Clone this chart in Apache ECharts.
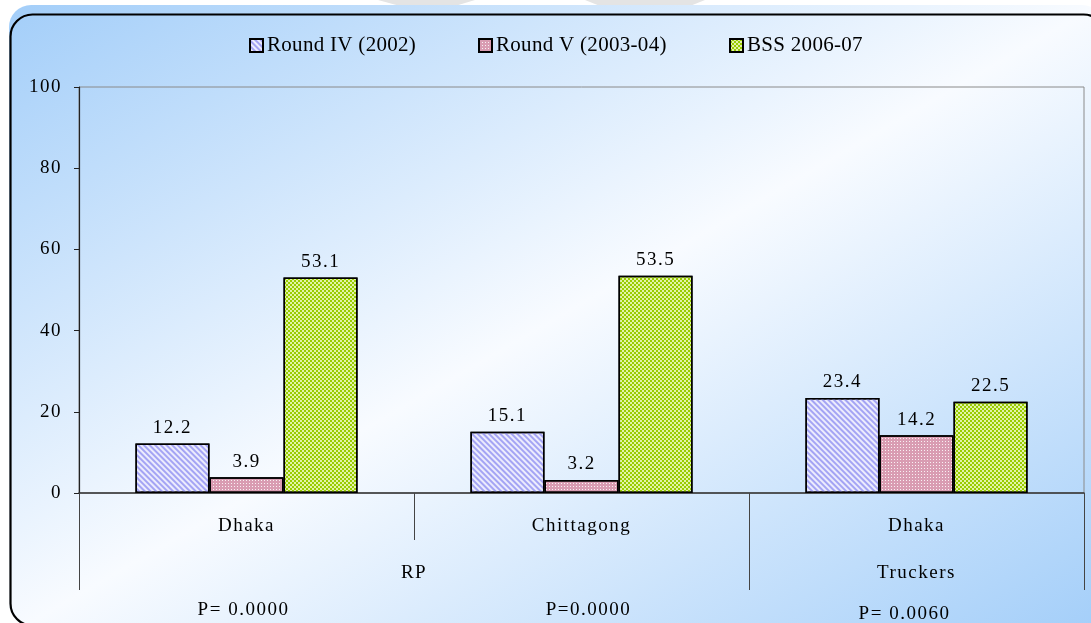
<!DOCTYPE html>
<html>
<head>
<meta charset="utf-8">
<script src="https://cdn.jsdelivr.net/npm/echarts@6/dist/echarts.min.js"></script>
<style>
html,body{margin:0;padding:0;background:#fff;}
#chart{width:1091px;height:623px;}
</style>
</head>
<body>
<div id="chart"></div>
<script>
// ---- data ----
const categories = ['Dhaka', 'Chittagong', 'Dhaka'];
const seriesNames = ['Round IV (2002)', 'Round V (2003-04)', 'BSS 2006-07'];
const round4 = [12.2, 15.1, 23.4];
const round5 = [3.9, 3.2, 14.2];
const bss = [53.1, 53.5, 22.5];
const yMin = 0, yMax = 100, yStep = 20;
const groupNames = ['RP', 'Truckers'];
const groupSpans = [[0, 1], [2, 2]];
const pValues = ['P= 0.0000', 'P=0.0000', 'P= 0.0060'];

// letter spacing like the original
const legendText = new Set(seriesNames);
const origFill = CanvasRenderingContext2D.prototype.fillText;
CanvasRenderingContext2D.prototype.fillText = function (t, x, y, m) {
  if ('letterSpacing' in this) this.letterSpacing = legendText.has(String(t)) ? '0.3px' : '1.5px';
  return m === undefined ? origFill.call(this, t, x, y) : origFill.call(this, t, x, y, m);
};

const FONT = 'Liberation Serif';
const chart = echarts.init(document.getElementById('chart'), null, {renderer: 'canvas'});

const bgGraphics = [
  {type: 'polygon', z: -20, silent: true, shape: {points: [[378, 0], [475, 0], [455, 6], [400, 6]]}, style: {fill: '#e4e4e4'}},
  {type: 'polygon', z: -20, silent: true, shape: {points: [[585, 0], [705, 0], [690, 6], [600, 6]]}, style: {fill: '#e4e4e4'}},
  {type: 'rect', z: -19, silent: true,
    shape: {x: 9, y: 5, width: 1095, height: 621, r: [22, 22, 22, 22]},
    style: {fill: new echarts.graphic.LinearGradient(9, 5, 555, 949, [
      {offset: 0, color: '#a3cef9'},
      {offset: 0.5, color: '#f8fbff'},
      {offset: 1, color: '#a3cef9'}
    ], true)}},
  {type: 'rect', z: -18, silent: true,
    shape: {x: 10.5, y: 14.5, width: 1095, height: 611, r: 22},
    style: {fill: 'none', stroke: '#000', lineWidth: 2.2}}
];

function barSeries(name, data, color, decal) {
  return {
    name: name, type: 'bar', data: data,
    barGap: '0%', barCategoryGap: '33.7%',
    itemStyle: {color: color, borderColor: '#000', borderWidth: 1.5, decal: decal},
    label: {show: true, position: 'top', distance: 6, color: '#000',
      fontFamily: FONT, fontSize: 19},
    emphasis: {disabled: true},
    animation: false
  };
}

const legendLeft = [249, 478, 729];
const legends = seriesNames.map((n, i) => ({
  top: 35, left: legendLeft[i], padding: 0, itemWidth: 13, itemHeight: 13,
  icon: 'rect', selectedMode: false,
  textStyle: {fontFamily: FONT, fontSize: 21, color: '#000', padding: [0, 0, 0, -1]},
  data: [n]
}));

const option = {
  animation: false,
  backgroundColor: 'transparent',
  aria: {enabled: false, decal: {show: true}},
  legend: legends,
  grid: {left: 79, right: 7, top: 87, bottom: 130, show: true,
    borderColor: '#8a8a8a', borderWidth: 1, backgroundColor: 'transparent'},
  xAxis: {
    type: 'category', data: categories,
    axisLine: {lineStyle: {color: '#333', width: 1.5}},
    axisTick: {show: false},
    axisLabel: {margin: 24, color: '#000', fontFamily: FONT, fontSize: 19}
  },
  yAxis: {
    type: 'value', min: yMin, max: yMax, interval: yStep,
    axisLine: {show: true, lineStyle: {color: '#222', width: 1.2}},
    axisTick: {show: true, length: 5, lineStyle: {color: '#222'}},
    splitLine: {show: false},
    axisLabel: {margin: 17, color: '#000', fontFamily: FONT, fontSize: 19}
  },
  graphic: bgGraphics,
  series: [
    barSeries(seriesNames[0], round4, '#ececfd',
      {symbol: 'rect', symbolSize: 1, color: '#a4a4f4', dashArrayX: [10, 0], dashArrayY: [2, 2], rotation: Math.PI / 4}),
    barSeries(seriesNames[1], round5, '#d99cb2',
      {symbol: 'rect', symbolSize: 1, color: 'rgba(255,255,255,0.85)', dashArrayX: [1, 2], dashArrayY: [1, 2], rotation: 0}),
    barSeries(seriesNames[2], bss, '#e2f3a8',
      {symbol: 'rect', symbolSize: 1, color: '#99cc00', dashArrayX: [[2, 2], [0, 2, 2, 0]], dashArrayY: [2, 0], rotation: 0})
  ]
};
chart.setOption(option);

// ---- multi-level category annotations, positioned through the axis ----
const c0 = chart.convertToPixel({xAxisIndex: 0}, 0);
const c1 = chart.convertToPixel({xAxisIndex: 0}, 1);
const band = c1 - c0;
const yZero = chart.convertToPixel({yAxisIndex: 0}, 0);
const center = i => chart.convertToPixel({xAxisIndex: 0}, i);
const extra = [];
const bounds = [];
for (let i = 0; i <= categories.length; i++) bounds.push(c0 - band / 2 + i * band);
bounds.forEach((bx, i) => {
  const isGroupEdge = groupSpans.some(s => s[0] === i || s[1] + 1 === i);
  extra.push({type: 'line', z: 5, silent: true,
    shape: {x1: Math.round(bx) + 0.5, y1: yZero, x2: Math.round(bx) + 0.5, y2: yZero + (isGroupEdge ? 97 : 47)},
    style: {stroke: '#444', lineWidth: 1}});
});
groupNames.forEach((g, k) => {
  const s = groupSpans[k];
  const gx = (center(s[0]) + center(s[1])) / 2;
  extra.push({type: 'text', z: 5, silent: true, x: gx, y: yZero + 80,
    style: {text: g, fill: '#000', font: '19px "' + FONT + '"', textAlign: 'center', textVerticalAlign: 'middle'}});
});
const pDx = [-3, 7, -12], pDy = [117, 117, 121];
pValues.forEach((p, i) => {
  extra.push({type: 'text', z: 5, silent: true, x: center(i) + pDx[i], y: yZero + pDy[i],
    style: {text: p, fill: '#000', font: '19px "' + FONT + '"', textAlign: 'center', textVerticalAlign: 'middle'}});
});
chart.setOption({graphic: bgGraphics.concat(extra)});
</script>
</body>
</html>
